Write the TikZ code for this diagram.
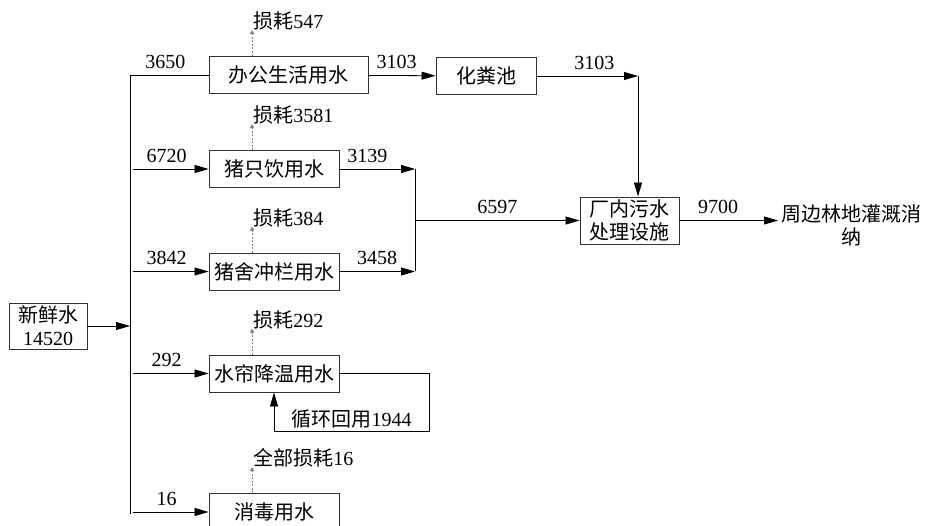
\documentclass[tikz,border=0pt]{standalone}
\usepackage{fontspec}
\setmainfont{Liberation Serif}
\newfontfamily\cjk{Noto Sans CJK SC}
\usetikzlibrary{arrows.meta}
\tikzset{
box/.style={draw=black!80, line width=0.9pt, inner sep=2pt, minimum height=37pt},
zh/.style={font=\fontsize{20}{23}\selectfont\cjk},
flow/.style={-{Triangle[length=14pt,width=8pt]}},
loss/.style={draw=black!50, dash pattern=on 2pt off 1.5pt, line width=0.5pt,
	-{Triangle[length=4pt,width=4pt]}},
num/.style={above=6pt, inner sep=0pt}
}

\begin{document}
\begin{tikzpicture}[x=1pt, y=-1pt, line width=0.8pt,
	font=\fontsize{20}{23}\selectfont]
	\useasboundingbox (0,0) rectangle (925,526);
	% boxes
	\node[box, align=center, minimum width=78pt, minimum height=46pt] (fresh) at (48,326) {{\cjk 新鲜水}\\14520};
	\node[box, zh, minimum width=159pt] (office) at (288.5,75) {办公生活用水};
	\node[box, zh, minimum width=100pt] (septic) at (486,76) {化粪池};
	\node[box, zh, minimum width=130pt] (drink) at (274,169) {猪只饮用水};
	\node[box, zh, minimum width=130pt] (flush) at (274,271.5) {猪舍冲栏用水};
	\node[box, zh, minimum width=130pt] (curtain) at (274,373.5) {水帘降温用水};
	\node[box, zh, minimum width=130pt] (disinf) at (274,512) {消毒用水};
	\node[box, zh, align=center, minimum width=99pt, minimum height=47pt] (treat) at (629.5,220.5) {厂内污水\\处理设施};
	\node[zh, align=center, anchor=west, inner sep=0pt] (outlet) at (781,225) {周边林地灌溉消\\纳};
	% fresh water main
	\coordinate (top) at (130,75);
	\coordinate (bot) at (130,514);
	\draw (top) -- (bot);
	\draw[flow] (fresh) -- (fresh -| top);
	\draw (top) -- node[num, pos=0.45] {3650} (office.west);
	\foreach \n/\v in {drink/6720, flush/3842, curtain/292, disinf/16}
		\draw[flow] ([xshift=2.5pt]top |- \n.west) -- node[num, pos=0.45] {\v} (\n.west);
	% losses
	\coordinate (lx) at (252,0);
	\foreach \n/\t in {office/{\cjk 损耗}547, drink/{\cjk 损耗}3581, flush/{\cjk 损耗}384,
		curtain/{\cjk 损耗}292, disinf/{\cjk 全部损耗}16} {
		\draw[loss] (lx |- \n.north) -- ++(0,-26) coordinate (tip);
		\node[anchor=west, inner sep=0pt] (\n-loss) at ([shift={(1,-9)}]tip) {\t};
	}
	% recycling
	\coordinate (loop) at (429,431);
	\draw[flow] (curtain.east) -| (loop) -| node[pos=0.25, above=2pt, inner sep=0pt] {{\cjk 循环回用}1944} (curtain.south);
	% waste water
	\draw[flow] (office) -- node[num, pos=0.42] {3103} (septic);
	\coordinate (c1) at (638,76);
	\draw[flow] (septic) -- node[num, pos=0.57] {3103} (c1);
	\draw[flow] (c1) -- (c1 |- treat.north);
	\coordinate (bus) at (415,0);
	\draw[flow] (drink) -- node[num, pos=0.37] {3139} (drink -| bus);
	\draw[flow] (flush) -- node[num] {3458} (flush -| bus);
	\draw (drink -| bus) -- (flush -| bus);
	\draw[flow] (bus |- treat) -- node[num] {6597} (treat);
	\draw[flow, shorten >=3pt] (treat) -- node[num, pos=0.38] {9700} (outlet.west |- treat);
\end{tikzpicture}
\end{document}
